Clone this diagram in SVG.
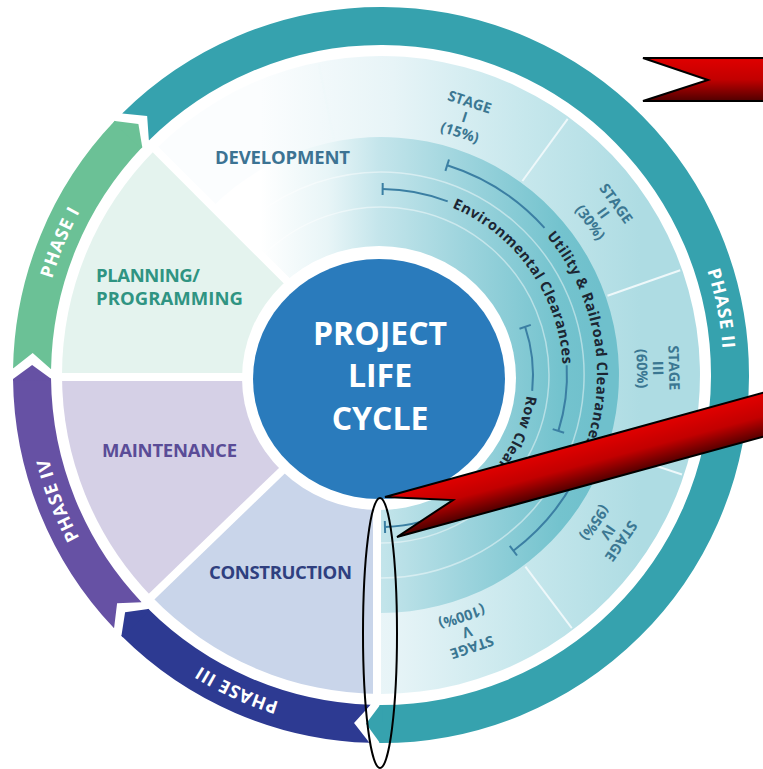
<svg xmlns="http://www.w3.org/2000/svg" width="763" height="769" viewBox="0 0 763 769">
<defs>
<linearGradient id="stageGrad" gradientUnits="userSpaceOnUse" x1="260" y1="0" x2="640" y2="0">
<stop offset="0" stop-color="#fbfdfe"/><stop offset="0.35" stop-color="#e7f4f7"/><stop offset="0.7" stop-color="#c6e7ec"/><stop offset="1" stop-color="#aedce3"/>
</linearGradient>
<linearGradient id="innerGrad" gradientUnits="userSpaceOnUse" x1="260" y1="0" x2="600" y2="0">
<stop offset="0" stop-color="#ffffff"/><stop offset="0.2" stop-color="#e8f5f7"/><stop offset="0.35" stop-color="#c4e5eb"/><stop offset="0.6" stop-color="#9dd4dd"/><stop offset="0.88" stop-color="#74c3ce"/><stop offset="1" stop-color="#6fc0cc"/>
</linearGradient>
<linearGradient id="redA" x1="0" y1="0" x2="0" y2="1">
<stop offset="0" stop-color="#e00000"/><stop offset="0.5" stop-color="#c20000"/><stop offset="1" stop-color="#500000"/>
</linearGradient>
<linearGradient id="redB" gradientUnits="userSpaceOnUse" x1="600" y1="438" x2="611" y2="479">
<stop offset="0" stop-color="#e00000"/><stop offset="0.5" stop-color="#c20000"/><stop offset="1" stop-color="#500000"/>
</linearGradient>
<path id="phasePath" d="M381,32.5 A342.5 342.5 0 1 1 381,717.5 A342.5 342.5 0 1 1 381,32.5"/>
<path id="utilPath" d="M546.5,236.2 A216 216 0 0 1 454.9,578"/>
<path id="envPath" d="M452.1,207.5 A182 182 0 0 1 520.4,492"/>
<path id="rowPath" d="M526.6,395.5 A147 147 0 0 1 355.5,519.8"/>
<polygon id="notch" points="707,372 711,375 729.63,391.01 749,375 753,372"/>
<polygon id="head" points="711,373 749,373 749,375 729.72,389.01 711,375"/>
</defs>
<style>
.f{font-family:"Open Sans","Liberation Sans",sans-serif;font-weight:700}
.sec{font-size:18.5px}
.ph{font-size:18px;fill:#ffffff;letter-spacing:0.8px}
.stg{font-size:14.5px;fill:#3b7792;text-anchor:middle}
.clr{font-family:"Open Sans","Liberation Sans",sans-serif;font-weight:700;font-size:14.5px;fill:#1c2633;letter-spacing:0.5px}
.bar{fill:none;stroke:#3b7fa3;stroke-width:2}
.div{stroke:#ffffff;stroke-width:8}
.sdiv{stroke:#eef8fa;stroke-width:2}
.band{fill:none;stroke-width:38}
.red{stroke:#000000;stroke-width:2;stroke-linejoin:miter}
</style>
<rect width="763" height="769" fill="#ffffff"/>

<g id="development">
<path d="M381,375 L155.43,149.43 A319 319 0 1 1 381,694 Z" fill="url(#stageGrad)"/>
<path d="M381,375 L212.7,206.7 A238 238 0 1 1 381,613 Z" fill="url(#innerGrad)"/>
<path d="M262.2,256.2 A168 168 0 1 1 381,543" fill="none" stroke="#ffffff" stroke-opacity="0.45" stroke-width="1.5"/>
<path d="M237.5,231.5 A203 203 0 1 1 381,578" fill="none" stroke="#ffffff" stroke-opacity="0.45" stroke-width="1.5"/>
<line class="sdiv" x1="334" y1="139.7" x2="318.9" y2="64.1" stroke-opacity="0.6"/>
<line class="sdiv" x1="522.4" y1="181" x2="567.7" y2="118.8"/>
<line class="sdiv" x1="607.5" y1="295.7" x2="680.2" y2="270.2"/>
<line class="sdiv" x1="608.9" y1="450.4" x2="682" y2="474.5"/>
<line class="sdiv" x1="525.4" y1="566.7" x2="571.8" y2="628.2"/>
<text class="f sec" x="215" y="164" fill="#3c7393" textLength="135">DEVELOPMENT</text>
</g>

<g id="planning">
<path d="M381,375 L62,375 A319 319 0 0 1 155.43,149.43 Z" fill="#e4f3ee"/>
<text class="f sec" x="96" y="281.5" fill="#2f9482" textLength="104">PLANNING/</text>
<text class="f sec" x="96" y="304.5" fill="#2f9482" textLength="147">PROGRAMMING</text>
</g>

<g id="maintenance">
<path d="M381,375 L151.53,596.6 A319 319 0 0 1 62,375 Z" fill="#d5d0e6"/>
<text class="f sec" x="102" y="457" fill="#5a4c97" textLength="135">MAINTENANCE</text>
</g>

<g id="construction">
<path d="M381,375 L381,694 A319 319 0 0 1 151.53,596.6 Z" fill="#c9d5ea"/>
<text class="f sec" x="209" y="579" fill="#2f3f7f" textLength="143">CONSTRUCTION</text>
</g>

<g id="dividers">
<line class="div" x1="292" y1="286" x2="150" y2="144"/>
<line class="div" x1="245" y1="377" x2="55" y2="377"/>
<line class="div" x1="287.5" y1="465.3" x2="147.2" y2="600.8"/>
<line class="div" x1="377" y1="500" x2="377" y2="700"/>
</g>

<g id="stages">
<text class="f stg" transform="translate(464.7,117.3) rotate(18)"><tspan x="0" y="-11">STAGE</tspan><tspan x="0" y="5">I</tspan><tspan x="0" y="21">(15%)</tspan></text>
<text class="f stg" transform="translate(603.2,213) rotate(53.9)"><tspan x="0" y="-11">STAGE</tspan><tspan x="0" y="5">II</tspan><tspan x="0" y="21">(30%)</tspan></text>
<text class="f stg" transform="translate(657.9,368.2) rotate(88.6)"><tspan x="0" y="-11">STAGE</tspan><tspan x="0" y="5">III</tspan><tspan x="0" y="21">(60%)</tspan></text>
<text class="f stg" transform="translate(607.9,532.1) rotate(124.7)"><tspan x="0" y="-11">STAGE</tspan><tspan x="0" y="5">IV</tspan><tspan x="0" y="21">(95%)</tspan></text>
<text class="f stg" transform="translate(467,632) rotate(161.5)"><tspan x="0" y="-11">STAGE</tspan><tspan x="0" y="5">V</tspan><tspan x="0" y="21">(100%)</tspan></text>
</g>

<g id="clearances">
<path class="bar" d="M447.2,165.2 A220 220 0 0 1 544.5,227.8"/>
<line class="bar" x1="445.4" y1="170.9" x2="449" y2="159.5"/>
<path class="bar" d="M587.7,450.2 A220 220 0 0 1 513.4,550.7"/>
<line class="bar" x1="509.8" y1="545.9" x2="517" y2="555.5"/>
<path class="bar" d="M382.6,189 A186 186 0 0 1 447.7,201.4"/>
<line class="bar" x1="382.6" y1="195" x2="382.7" y2="183"/>
<path class="bar" d="M566.7,365.3 A186 186 0 0 1 558.4,430.9"/>
<line class="bar" x1="552.7" y1="429.1" x2="564.1" y2="432.7"/>
<path class="bar" d="M525.1,326.8 A152 152 0 0 1 532.2,390.9"/>
<line class="bar" x1="519.5" y1="328.7" x2="530.8" y2="324.9"/>
<path class="bar" d="M466,501 A152 152 0 0 1 385,526.9"/>
<line class="bar" x1="384.8" y1="521" x2="385.1" y2="533"/>
<text class="clr"><textPath href="#utilPath">Utility &amp; Railroad Clearances</textPath></text>
<text class="clr"><textPath href="#envPath">Environmental Clearances</textPath></text>
<text class="clr"><textPath href="#rowPath">Row Clearances</textPath></text>
</g>

<g id="center">
<ellipse cx="379" cy="378" rx="137" ry="132" fill="#ffffff"/>
<ellipse cx="379" cy="379" rx="126" ry="120" fill="#2a7bbc"/>
<text class="f" font-weight="600" font-size="32" fill="#ffffff" text-anchor="middle"><tspan x="380" y="345">PROJECT</tspan><tspan x="380" y="387">LIFE</tspan><tspan x="380" y="430">CYCLE</tspan></text>
</g>

<g id="phases">
<circle class="band" cx="381" cy="375" r="349" stroke="#6bc196" stroke-dasharray="259.85 3000" transform="rotate(181 381 375)"/>
<circle class="band" cx="381" cy="375" r="349" stroke="#36a2ae" stroke-dasharray="1369.67 3000" transform="rotate(225.3 381 375)"/>
<circle class="band" cx="381" cy="375" r="349" stroke="#2d3a92" stroke-dasharray="262.29 3000" transform="rotate(91.8 381 375)"/>
<circle class="band" cx="381" cy="375" r="349" stroke="#6651a4" stroke-dasharray="261.07 3000" transform="rotate(136.5 381 375)"/>
<use href="#notch" fill="#ffffff" transform="rotate(181 381 375)"/>
<use href="#notch" fill="#ffffff" transform="rotate(225.3 381 375)"/>
<use href="#notch" fill="#ffffff" transform="rotate(91.8 381 375)"/>
<use href="#notch" fill="#ffffff" transform="rotate(136.5 381 375)"/>
<use href="#head" fill="#6bc196" transform="rotate(223.66 381 375)"/>
<use href="#head" fill="#36a2ae" transform="rotate(90.16 381 375)"/>
<use href="#head" fill="#2d3a92" transform="rotate(134.86 381 375)"/>
<use href="#head" fill="#6651a4" transform="rotate(179.36 381 375)"/>
<text class="f ph" text-anchor="middle"><textPath href="#phasePath" startOffset="472">PHASE II</textPath></text>
<text class="f ph" text-anchor="middle"><textPath href="#phasePath" startOffset="1223">PHASE III</textPath></text>
<text class="f ph" text-anchor="middle"><textPath href="#phasePath" startOffset="1487">PHASE IV</textPath></text>
<text class="f ph" text-anchor="middle"><textPath href="#phasePath" startOffset="1748">PHASE I</textPath></text>
</g>

<g id="callouts">
<polygon class="red" points="643,58 766,58 766,101 643,101 708,80" fill="url(#redA)"/>
<polygon class="red" points="385,497 766,392 766,436 397,537 453,500" fill="url(#redB)"/>
<ellipse cx="380" cy="633" rx="17" ry="135" fill="none" stroke="#000000" stroke-width="2"/>
</g>
</svg>
